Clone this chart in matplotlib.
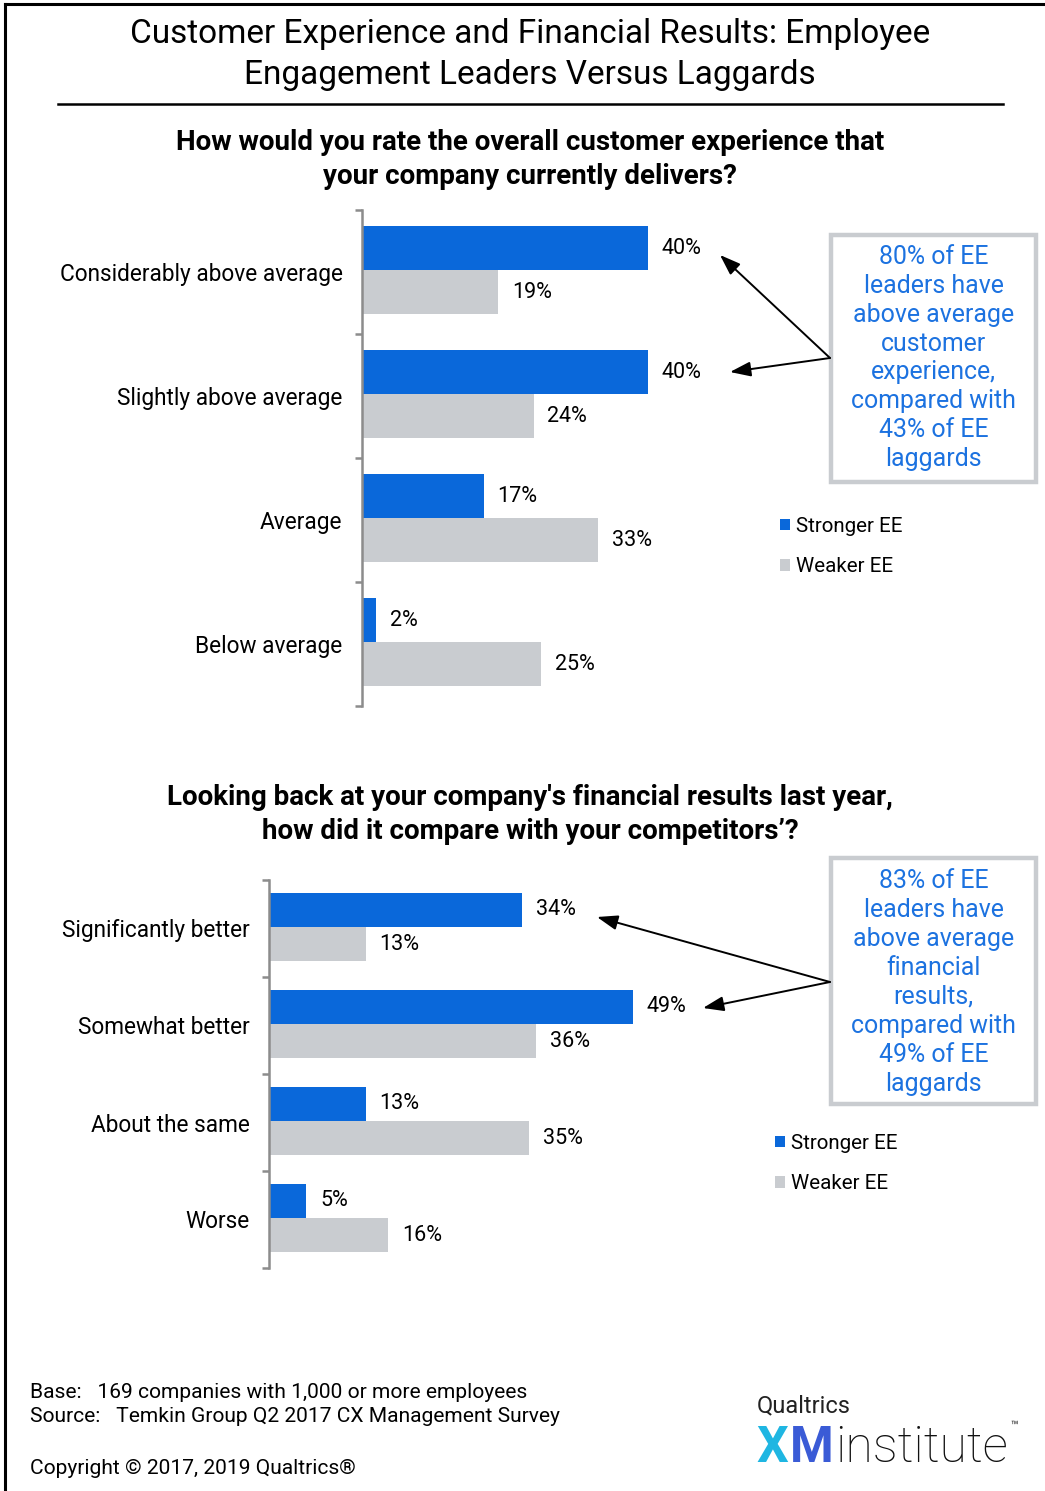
import numpy as np
import matplotlib.pyplot as plt
from matplotlib.patches import Rectangle
from matplotlib.lines import Line2D

plt.rcParams['font.family'] = ['Roboto', 'DejaVu Sans']

W, H = 1045, 1491

# survey results (% of companies)
cx_categories = ['Considerably above average', 'Slightly above average', 'Average', 'Below average']
cx_stronger = [40, 40, 17, 2]
cx_weaker = [19, 24, 33, 25]

fin_categories = ['Significantly better', 'Somewhat better', 'About the same', 'Worse']
fin_stronger = [34, 49, 13, 5]
fin_weaker = [13, 36, 35, 16]

BLUE = '#0a68da'
GREY = '#c9ccd0'
CALLOUT_BLUE = '#1c72e0'
SPINE = '#8c8c8c'

GAP = 0.13
BAR_H = 0.355

fig = plt.figure(figsize=(W / 100, H / 100), dpi=100)

# pixel-space canvas for titles, callouts and footer
canvas = fig.add_axes([0, 0, 1, 1])
canvas.set_xlim(0, W)
canvas.set_ylim(H, 0)
canvas.axis('off')

# outer frame (top and left edges) and title rule
canvas.add_line(Line2D([5, W], [4, 4], color='black', lw=2.2))
canvas.add_line(Line2D([5, 5], [4, H], color='black', lw=2.2))
canvas.add_line(Line2D([58, 1003], [104, 104], color='black', lw=1.8))

canvas.text(530, 54.5, 'Customer Experience and Financial Results: Employee\nEngagement Leaders Versus Laggards',
            ha='center', va='center', fontsize=24, linespacing=1.34)

canvas.text(530, 159.5, 'How would you rate the overall customer experience that\nyour company currently delivers?',
            ha='center', va='center', fontsize=20, fontweight='bold', linespacing=1.3)
canvas.text(530, 814.5, "Looking back at your company's financial results last year,\nhow did it compare with your competitors\u2019?",
            ha='center', va='center', fontsize=20, fontweight='bold', linespacing=1.3)


def bar_panel(left, top, bottom, px_per_pct, categories, stronger, weaker, legend_xy):
    ax = fig.add_axes([left / W, 1 - bottom / H, px_per_pct * 60 / W, (bottom - top) / H])
    ax.patch.set_alpha(0)
    n = len(categories)
    base = np.arange(n)
    b1 = ax.barh(base + GAP + BAR_H / 2, stronger, height=BAR_H, color=BLUE, label='Stronger EE')
    b2 = ax.barh(base + GAP + 1.5 * BAR_H, weaker, height=BAR_H, color=GREY, label='Weaker EE')
    ax.bar_label(b1, labels=[f'{v}%' for v in stronger], padding=10, fontsize=15.5)
    ax.bar_label(b2, labels=[f'{v}%' for v in weaker], padding=10, fontsize=15.5)
    ax.set_xlim(0, 60)
    ax.set_ylim(n, 0)

    ax.set_yticks(np.arange(n + 1))
    ax.set_yticklabels([])
    ax.set_yticks(base + 0.5, categories, minor=True)
    ax.tick_params(axis='y', which='major', length=5, width=1.8, color=SPINE, direction='out')
    ax.tick_params(axis='y', which='minor', length=0, pad=14, labelsize=16.3)
    ax.set_xticks([])
    for side in ['top', 'right', 'bottom']:
        ax.spines[side].set_visible(False)
    ax.spines['left'].set_color(SPINE)
    ax.spines['left'].set_linewidth(1.8)

    ax.legend(loc='center left', bbox_to_anchor=legend_xy,
              bbox_transform=canvas.transData, frameon=False, fontsize=14.8,
              handlelength=0.5, handleheight=0.5, handletextpad=0.3,
              labelspacing=1.05, borderpad=0, borderaxespad=0)
    return ax


bar_panel(362, 210, 706, 7.15, cx_categories, cx_stronger, cx_weaker, (780, 546.5))
bar_panel(269, 880, 1268, 7.43, fin_categories, fin_stronger, fin_weaker, (775, 1163.5))


def callout(x0, y0, x1, y1, text, dy=0):
    canvas.add_patch(Rectangle((x0, y0), x1 - x0, y1 - y0, facecolor='white',
                               edgecolor=GREY, lw=3.2))
    canvas.text((x0 + x1) / 2, (y0 + y1) / 2 + dy, text, ha='center', va='center',
                fontsize=17.9, color=CALLOUT_BLUE, linespacing=1.26)


def arrow(tail, tip):
    canvas.annotate('', xy=tip, xytext=tail,
                    arrowprops=dict(arrowstyle='-|>,head_length=0.7,head_width=0.25',
                                    color='black', lw=1.4, mutation_scale=18,
                                    shrinkA=0, shrinkB=0))


callout(831, 235, 1036, 482,
        '80% of EE\nleaders have\nabove average\ncustomer\nexperience,\ncompared with\n43% of EE\nlaggards', dy=-0.5)
arrow((830, 358), (720, 255))
arrow((830, 358), (730, 372))

callout(831, 858, 1036, 1104,
        '83% of EE\nleaders have\nabove average\nfinancial\nresults,\ncompared with\n49% of EE\nlaggards', dy=1.5)
arrow((830, 982), (597, 917))
arrow((830, 982), (703, 1008))

# footer
canvas.text(30, 1392, 'Base:   169 companies with 1,000 or more employees', ha='left', va='center', fontsize=15.1)
canvas.text(30, 1416, 'Source:   Temkin Group Q2 2017 CX Management Survey', ha='left', va='center', fontsize=15.1)
canvas.text(30, 1468, 'Copyright \u00a9 2017, 2019 Qualtrics\u00ae', ha='left', va='center', fontsize=15.1)

# logo
canvas.text(757, 1412, 'Qualtrics', ha='left', va='baseline', fontsize=17, color='#222222')
canvas.text(756, 1462, 'X', ha='left', va='baseline', fontsize=36, fontweight='bold', color='#1fb6e2')
canvas.text(790, 1462, 'M', ha='left', va='baseline', fontsize=36, fontweight='bold', color='#3a5bd6')
canvas.text(835, 1462, 'institute', ha='left', va='baseline', fontsize=36, fontweight='light', color='#111111')
canvas.text(1010, 1430, '\u2122', ha='left', va='baseline', fontsize=9, color='#111111')

fig.savefig('out.png', dpi=100)
